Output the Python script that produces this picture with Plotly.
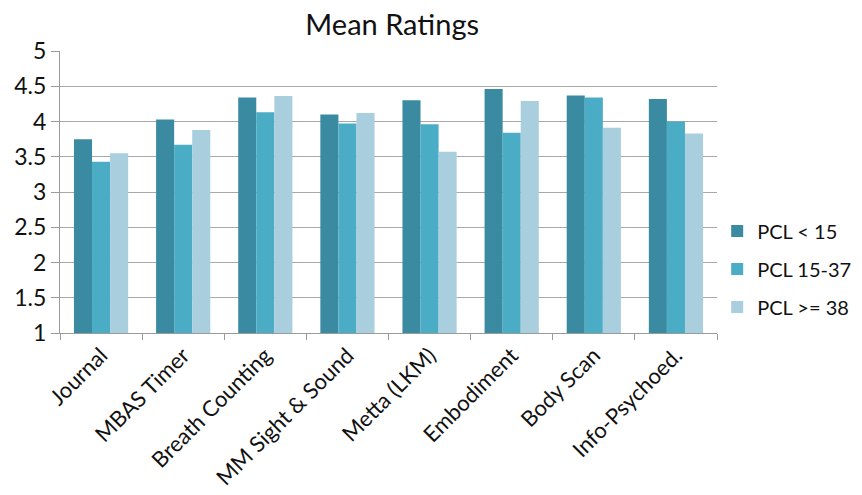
import plotly.graph_objects as go

categories = ["Journal", "MBAS Timer", "Breath Counting", "MM Sight & Sound",
              "Metta (LKM)", "Embodiment", "Body Scan", "Info-Psychoed."]
series_names = ["PCL < 15", "PCL 15-37", "PCL >= 38"]
pcl_low = [3.75, 4.03, 4.34, 4.10, 4.30, 4.46, 4.37, 4.32]
pcl_mid = [3.43, 3.67, 4.13, 3.97, 3.96, 3.84, 4.34, 4.00]
pcl_high = [3.55, 3.88, 4.36, 4.12, 3.57, 4.29, 3.91, 3.83]
colors = ["#3A8BA1", "#4BACC6", "#A9CEDD"]

fig = go.Figure()
for name, vals, col in zip(series_names, [pcl_low, pcl_mid, pcl_high], colors):
    fig.add_trace(go.Bar(x=categories, y=vals, name=name, marker_color=col,
                         marker_line_width=0, legendgroup=name))

font_family = "Lato, Open Sans, sans-serif"
fig.update_layout(
    width=862, height=495,
    margin=dict(l=60, r=145, t=51, b=162, autoexpand=False),
    paper_bgcolor="white", plot_bgcolor="white",
    barmode="group", bargap=0.34, bargroupgap=0,
    title=dict(text="Mean Ratings", x=0.455, xanchor="center", y=0.95, yanchor="middle",
               font=dict(family=font_family, size=29, color="#111111")),
    font=dict(family=font_family, color="#111111"),
    legend=dict(xref="container", x=0.832, xanchor="left", y=0.227, yanchor="middle",
                font=dict(size=20, family=font_family), itemwidth=30,
                tracegroupgap=9),
    xaxis=dict(tickangle=-45, tickson="boundaries", ticks="outside", ticklen=6,
               tickcolor="#9a9a9a", showline=True, linecolor="#9a9a9a", linewidth=1,
               tickfont=dict(size=22, family=font_family, color="#111111"),
               showgrid=False, automargin=False),
    yaxis=dict(range=[1, 5], dtick=0.5, tick0=1, ticks="outside", ticklen=8,
               tickcolor="#9a9a9a", showline=True, linecolor="#9a9a9a", linewidth=1,
               gridcolor="#a8a8a8", gridwidth=1,
               tickfont=dict(size=23, family=font_family, color="#111111"),
               zeroline=False, automargin=False),
)

fig.write_html("out.html")
